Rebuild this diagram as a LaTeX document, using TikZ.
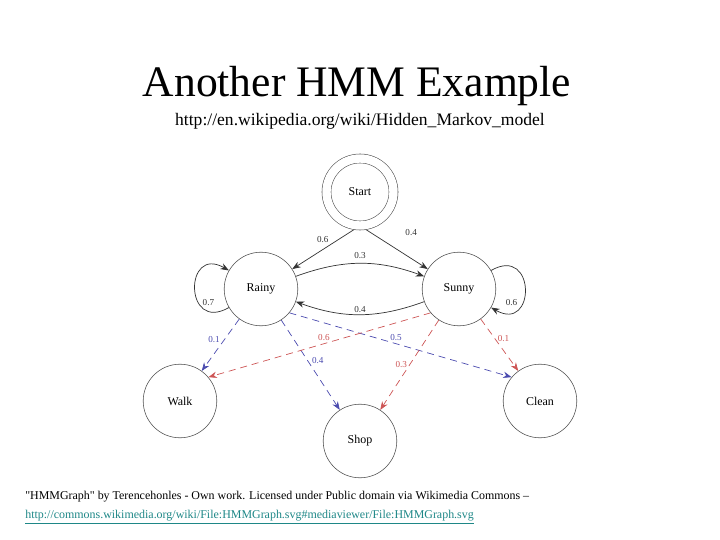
\documentclass[tikz,border=0pt]{standalone}
\usepackage{fontspec}
\setmainfont{Liberation Serif}
\usepackage[svgnames]{xcolor}
\usepackage{tikz}
\usetikzlibrary{arrows}
\usetikzlibrary{arrows.meta}
\pgfdeclarelayer{edgelayer}
\pgfdeclarelayer{nodelayer}
\pgfsetlayers{edgelayer,nodelayer,main}
\definecolor{emitblue}{RGB}{75,75,175}
\definecolor{emitred}{RGB}{205,85,85}
\definecolor{linkteal}{RGB}{30,135,135}
\tikzset{
	state/.style={draw=black!70, circle, minimum size=1.84cm, inner sep=0pt, font=\fontsize{8.5}{10}\selectfont},
	start state/.style={state, double, double distance=6pt, minimum size=1.675cm},
	trans/.style={draw=black!80, -{Stealth[length=6pt, width=4.5pt]}, line width=0.5pt},
	emit blue/.style={trans, draw=emitblue, dash pattern=on 5pt off 3.5pt},
	emit red/.style={trans, draw=emitred, dash pattern=on 5pt off 3.5pt},
	prob/.style={font=\fontsize{6.5}{8}\selectfont, inner sep=1pt, text=black!80},
}

\begin{document}
\begin{tikzpicture}
								\useasboundingbox (0, 0) rectangle (18, 13.5);
								\begin{pgfonlayer}{nodelayer}
									\node [font=\fontsize{31}{37}\selectfont] (6) at (8.925, 11.35) {Another HMM Example};
									\node [font=\fontsize{12.5}{15}\selectfont] (7) at (9, 10.47) {http://en.wikipedia.org/wiki/Hidden\_Markov\_model};
									\node [style=start state] (0) at (9, 8.7) {Start};
									\node [style=state] (1) at (6.525, 6.275) {Rainy};
									\node [style=state] (2) at (11.475, 6.275) {Sunny};
									\node [style=state] (3) at (4.5, 3.475) {Walk};
									\node [style=state] (4) at (9, 2.475) {Shop};
									\node [style=state] (5) at (13.5, 3.475) {Clean};
									\node [anchor=west, inner sep=0pt, font=\fontsize{8.5}{10}\selectfont] (8) at (0.625, 1.075) {\textquotedbl HMMGraph\textquotedbl{} by Terencehonles - Own work. Licensed under Public domain via Wikimedia Commons –};
									\node [anchor=west, inner sep=0pt, text=linkteal, font=\fontsize{8.5}{10}\selectfont] (9) at (0.625, 0.58) {\underline{http://commons.wikimedia.org/wiki/File:HMMGraph.svg\#mediaviewer/File:HMMGraph.svg}};
								\end{pgfonlayer}
								\begin{pgfonlayer}{edgelayer}
									\draw [style=trans] (0.south) to node [style=prob, pos=0.55, above=4pt] {0.6} (1);
									\draw [style=trans] (0.south) to node [style=prob, pos=0.5, above right=7pt] {0.4} (2);
									\draw [style=trans] (1) to [bend left=20] node [style=prob, above=2pt] {0.3} (2);
									\draw [style=trans] (2) to [bend left=20] node [style=prob, above] {0.4} (1);
									\draw [style=trans] (1) to [out=210, in=150, distance=1.3cm] node [style=prob, pos=0.35, right=2pt] {0.7} (1);
									\draw [style=trans] (2) to [out=30, in=-30, distance=1.3cm] node [style=prob, pos=0.65, left=2pt] {0.6} (2);
									\draw [style=emit blue] (1) to node [style=prob, text=emitblue, pos=0.4, left=2pt] {0.1} (3);
									\draw [style=emit blue] (1) to node [style=prob, text=emitblue, pos=0.45, right=2pt] {0.4} (4);
									\draw [style=emit blue] (1.-40) to node [style=prob, text=emitblue, pos=0.48, above=1pt] {0.5} (5.140);
									\draw [style=emit red] (2.220) to node [style=prob, text=emitred, pos=0.48, above=1pt] {0.6} (3.40);
									\draw [style=emit red] (2) to node [style=prob, text=emitred, pos=0.49, left=1pt] {0.3} (4);
									\draw [style=emit red] (2) to node [style=prob, text=emitred, pos=0.37, right=1pt] {0.1} (5);
								\end{pgfonlayer}
							\end{tikzpicture}
\end{document}
